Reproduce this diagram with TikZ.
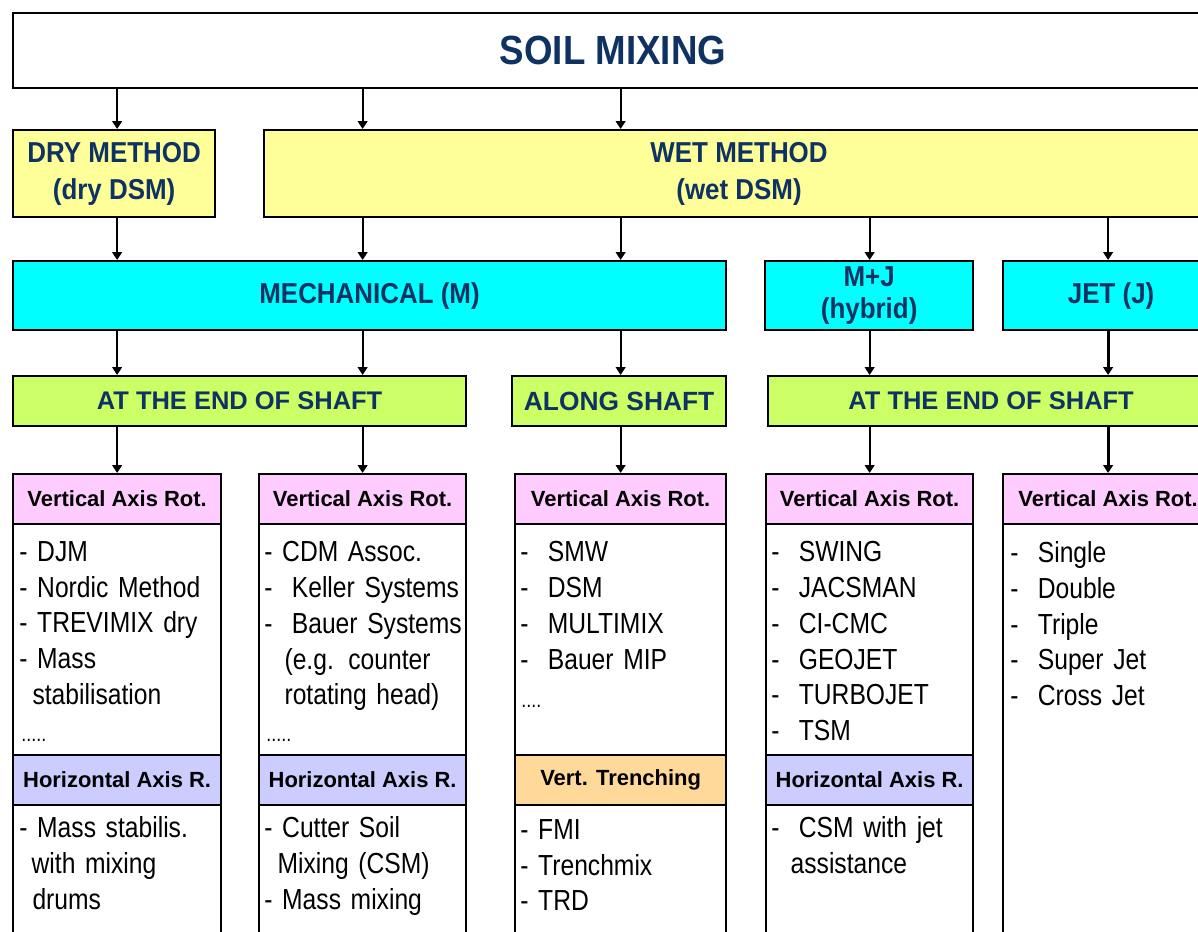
\documentclass[tikz,border=0pt]{standalone}
\usepackage{fontspec}
\setmainfont{Liberation Sans}
\newfontfamily\headfont{Liberation Sans}[FakeStretch=0.9]
\newfontfamily\itemfont{Liberation Sans}[FakeStretch=0.85]
\newcommand{\itemspacing}{\spaceskip=3.5pt plus 1pt minus 1pt\relax}
\usepackage{tikz}
\usetikzlibrary{arrows.meta}

\definecolor{navy}{RGB}{14,50,98}
\definecolor{lemonfill}{RGB}{255,255,153}
\definecolor{aquafill}{RGB}{0,255,255}
\definecolor{limefill}{RGB}{204,255,102}
\definecolor{rosafill}{RGB}{255,204,255}
\definecolor{lilacfill}{RGB}{204,204,255}
\definecolor{apricotfill}{RGB}{255,217,153}

\begin{document}
\begin{tikzpicture}[x=0.02cm, y=-0.02cm,
  box/.style={draw, line width=1.3pt, anchor=north west, inner sep=0pt},
  head/.style={box, text=navy, align=center, font=\headfont\bfseries\fontsize{16.4}{21}\selectfont},
  shaft/.style={box, fill=limefill, minimum height=1cm, text=navy, font=\bfseries\fontsize{14.5}{17}\selectfont},
  colhead/.style={box, minimum height=1cm, font=\bfseries\fontsize{12.5}{15}\selectfont},
  colbody/.style={box, fill=white},
  items/.style={anchor=north west, inner sep=0pt, align=left, text width=4cm, font=\itemfont\fontsize{16.5}{20.4}\selectfont\itemspacing},
  dots/.style={anchor=base west, inner sep=0pt, font=\itemfont\fontsize{12}{14}\selectfont},
  arr/.style={-{Triangle[width=5.5pt,length=4.5pt]}, line width=1.2pt}]

\useasboundingbox (0,0) rectangle (1198,932);
\clip (0,0) rectangle (1198,932);

\node[box, minimum width=24cm, minimum height=1.5cm, text=navy, font=\headfont\bfseries\fontsize{23.2}{28}\selectfont] (soil) at (12,12) {SOIL MIXING};

\node[head, fill=lemonfill, minimum width=4.04cm, minimum height=1.74cm] (dry) at (12,129) {DRY METHOD\\(dry DSM)};       % dry
\node[head, fill=lemonfill, minimum width=19cm, minimum height=1.74cm] (wet) at (263,129) {WET METHOD\\(wet DSM)};       % wet

\node[head, fill=aquafill, minimum width=14.26cm, minimum height=1.38cm] (mech) at (12,260) {MECHANICAL (M)};
\node[head, fill=aquafill, minimum width=4.16cm, minimum height=1.38cm, font=\headfont\bfseries\fontsize{16.4}{18.7}\selectfont] (hyb) at (764,260) {M+J\\(hybrid)};
\node[head, fill=aquafill, minimum width=4.32cm, minimum height=1.38cm] (jet) at (1002,260) {JET (J)};

\node[shaft, minimum width=9.06cm] (endL) at (12,375) {AT THE END OF SHAFT};
\node[shaft, minimum width=4.28cm, font=\bfseries\fontsize{15}{18}\selectfont] (along) at (511,375) {ALONG SHAFT};
\node[shaft, minimum width=8.92cm] (endR) at (767,375) {AT THE END OF SHAFT};

% column 1
\node[colbody, minimum width=4.16cm, minimum height=4.62cm] (b1) at (12,523) {};
\node[colbody, minimum width=4.16cm, minimum height=3.5cm] (c1) at (12,804) {};
\node[colhead, fill=rosafill, minimum width=4.16cm] (h1) at (12,473) {Vertical Axis Rot.};
\node[colhead, fill=lilacfill, minimum width=4.16cm] (g1) at (12,754) {Horizontal Axis R.};
\node[items] (l1) at (19,541) {- DJM\\- Nordic Method\\- TREVIMIX dry\\- Mass\\\hspace*{7.5pt}stabilisation};
\node[dots] (d1) at (21,742) {.....};
\node[items] (m1) at (19,816) {- Mass stabilis.\\\hspace*{7pt}with mixing\\\hspace*{7.5pt}drums};

% column 2
\node[colbody, minimum width=4.14cm, minimum height=4.62cm] (b2) at (258,523) {};
\node[colbody, minimum width=4.14cm, minimum height=3.5cm] (c2) at (258,804) {};
\node[colhead, fill=rosafill, minimum width=4.14cm] (h2) at (258,473) {Vertical Axis Rot.};
\node[colhead, fill=lilacfill, minimum width=4.14cm] (g2) at (258,754) {Horizontal Axis R.};
\node[items] (l2) at (264,541) {- CDM Assoc.\\-\ \ Keller Systems\\-\ \ Bauer Systems\\\hspace*{11.5pt}(e.g. counter\\\hspace*{11.5pt}rotating head)};
\node[dots] (d2) at (266,742) {.....};
\node[items] (m2) at (264,816) {- Cutter Soil\\\hspace*{7.5pt}Mixing (CSM)\\- Mass mixing};

% column 3
\node[colbody, minimum width=4.22cm, minimum height=4.62cm] (b3) at (514,523) {};
\node[colbody, minimum width=4.22cm, minimum height=3.5cm] (c3) at (514,804) {};
\node[colhead, fill=rosafill, minimum width=4.22cm] (h3) at (514,473) {Vertical Axis Rot.};
\node[colhead, fill=apricotfill, minimum width=4.22cm] (g3) at (514,754) {Vert. Trenching};
\node[items] (l3) at (520,541) {-\ \ SMW\\-\ \ DSM\\-\ \ MULTIMIX\\-\ \ Bauer MIP};
\node[dots] (d3) at (521,707) {....};
\node[items] (m3) at (520,819) {- FMI\\- Trenchmix\\- TRD};

% column 4
\node[colbody, minimum width=4.14cm, minimum height=4.62cm] (b4) at (765,523) {};
\node[colbody, minimum width=4.14cm, minimum height=3.5cm] (c4) at (765,804) {};
\node[colhead, fill=rosafill, minimum width=4.14cm] (h4) at (765,473) {Vertical Axis Rot.};
\node[colhead, fill=lilacfill, minimum width=4.14cm] (g4) at (765,754) {Horizontal Axis R.};
\node[items] (l4) at (771,541) {-\ \ SWING\\-\ \ JACSMAN\\-\ \ CI-CMC\\-\ \ GEOJET\\-\ \ TURBOJET\\-\ \ TSM};
\node[items] (m4) at (771,816) {-\ \ CSM with jet\\\hspace*{11pt}assistance};

% column 5
\node[colbody, minimum width=4.2cm, minimum height=9cm] (b5) at (1002,523) {};
\node[colhead, fill=rosafill, minimum width=4.2cm] (h5) at (1002,473) {Vertical Axis Rot.};
\node[items] (l5) at (1010,541) {-\ \ Single\\-\ \ Double\\-\ \ Triple\\-\ \ Super Jet\\-\ \ Cross Jet};

% arrows
\draw[arr] (soil.south -| h1) -- (dry.north -| h1);
\draw[arr] (soil.south -| h2) -- (wet.north -| h2);
\draw[arr] (soil.south -| h3) -- (wet.north -| h3);
\draw[arr] (dry.south -| h1) -- (mech.north -| h1);
\draw[arr] (wet.south -| h2) -- (mech.north -| h2);
\draw[arr] (wet.south -| h3) -- (mech.north -| h3);
\draw[arr] (wet.south -| h4) -- (hyb.north -| h4);
\draw[arr] (wet.south -| h5) -- (jet.north -| h5);
\draw[arr] (mech.south -| h1) -- (endL.north -| h1);
\draw[arr] (mech.south -| h2) -- (endL.north -| h2);
\draw[arr] (mech.south -| h3) -- (along.north -| h3);
\draw[arr] (hyb.south -| h4) -- (endR.north -| h4);
\draw[arr, line width=1.7pt] (jet.south -| h5) -- (endR.north -| h5);
\draw[arr] (endL.south -| h1) -- (h1);
\draw[arr] (endL.south -| h2) -- (h2);
\draw[arr] (along.south -| h3) -- (h3);
\draw[arr] (endR.south -| h4) -- (h4);
\draw[arr, line width=1.7pt] (endR.south -| h5) -- (h5);

\end{tikzpicture}
\end{document}
